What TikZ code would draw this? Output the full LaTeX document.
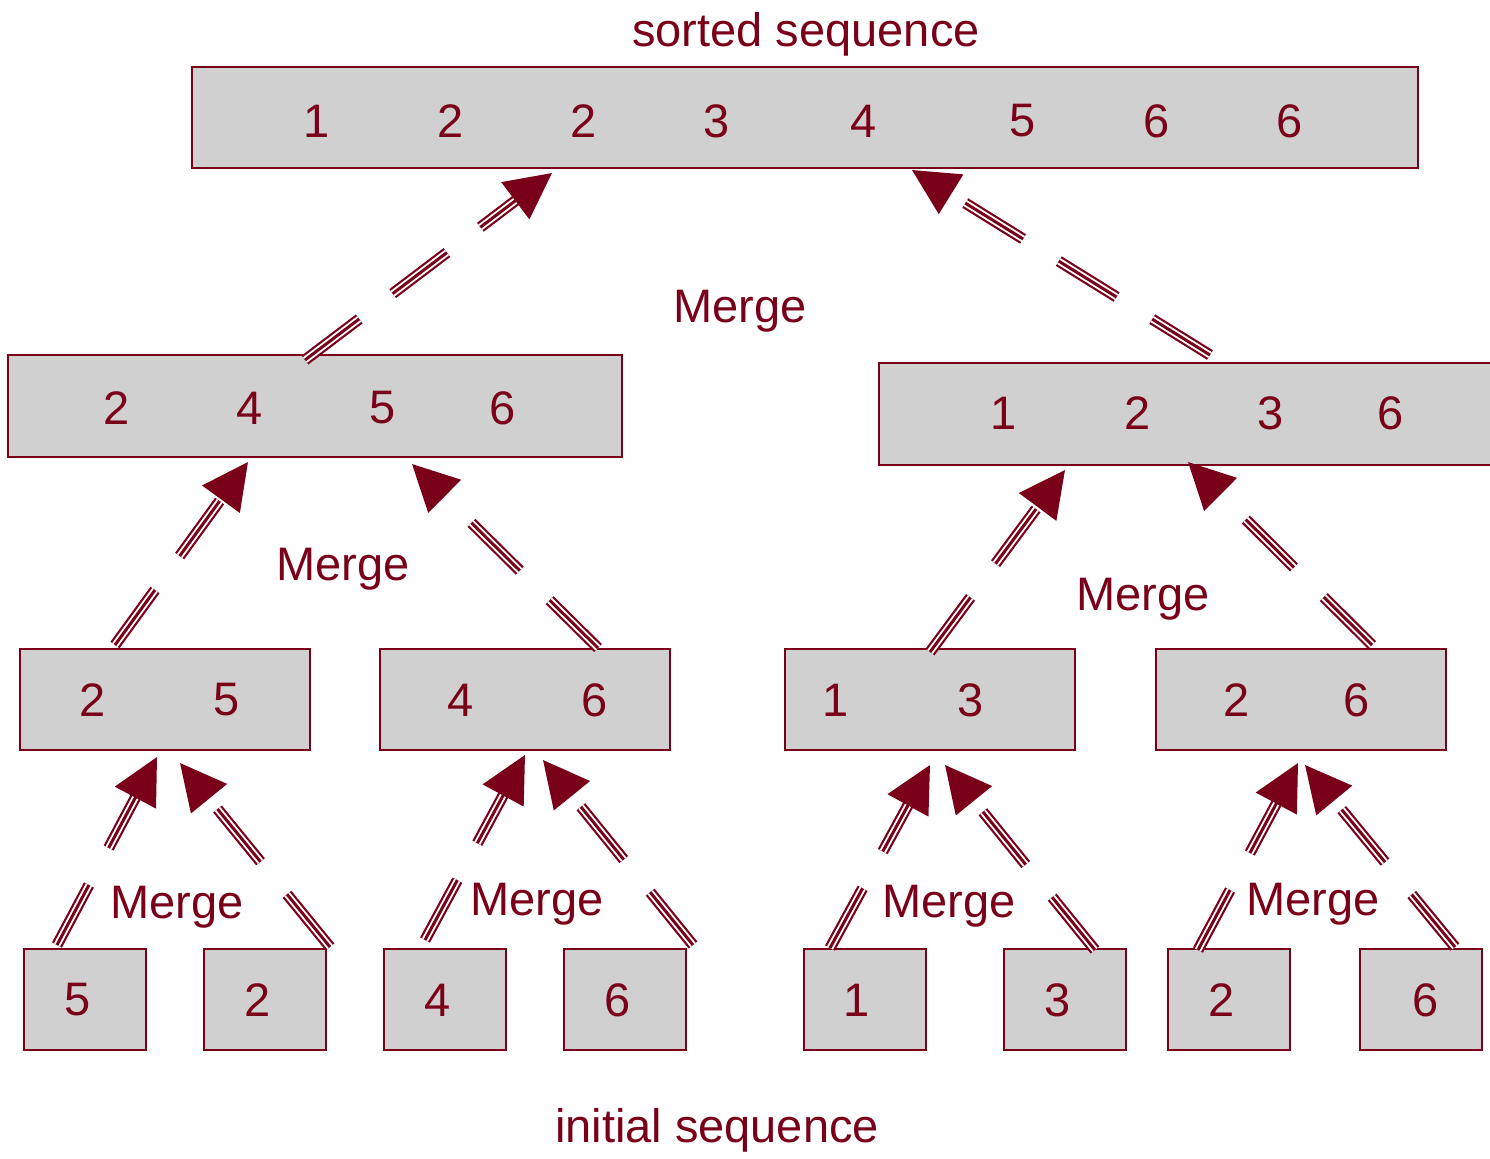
\documentclass[tikz,border=0pt]{standalone}
\usepackage{fontspec}
\setmainfont{Liberation Sans}
\usepackage{tikz}
\usetikzlibrary{arrows.meta,positioning,calc}
\definecolor{msred}{RGB}{122,0,26}
\definecolor{msgray}{RGB}{208,208,208}

\tikzset{
  seqbox/.style={draw=msred, fill=msgray, line width=1pt, inner sep=0pt},
  num/.style={text=msred, font=\fontsize{23.5}{28}\selectfont, inner sep=0pt},
  lbl/.style={text=msred, font=\fontsize{23.5}{28}\selectfont, anchor=base, inner sep=0pt},
  arrdash/.style={line cap=butt, dash pattern=on 34pt off 21pt},
  mergeouter/.style={arrdash, draw=msred, line width=5.6pt},
  mergeinner/.style={arrdash, draw=white, line width=3.4pt},
  mergearrow/.style={arrdash, draw=msred, line width=1.5pt,
    -{Triangle[length=23pt,width=23pt]}},
}

\begin{document}
\begin{tikzpicture}[x=0.5pt, y=-0.5pt]
    \useasboundingbox (0,0) rectangle (1490,1158);

    % Sorted sequence
    \node[lbl] (sorted) at (806,46) {sorted sequence};
    \node[seqbox, minimum width=613pt, minimum height=50.5pt] (top) at (805,117.5) {};
    \foreach \x/\v [count=\i] in {317/1, 451/2, 584/2, 717/3, 864/4, 1023/5, 1157/6, 1290/6} {
        \node[num] (top\i) at (\x,121) {\v};
    }

    % Halves
    \node[seqbox, minimum width=307pt, minimum height=51pt] (midL) at (315,406) {};
    \foreach \x/\v [count=\i] in {117/2, 250/4, 383/5, 503/6} {
        \node[num] (midL\i) at (\x,408) {\v};
    }
    \node[seqbox, minimum width=312pt, minimum height=51pt] (midR) at (1191,414) {};
    \foreach \x/\v [count=\i] in {1004/1, 1138/2, 1271/3, 1391/6} {
        \node[num] (midR\i) at (\x,413) {\v};
    }

    % Pairs
    \foreach \c/\n in {165/A, 525/B, 929.5/C, 1301/D} {
        \node[seqbox, minimum width=145pt, minimum height=50.5pt] (pair\n) at (\c,699.5) {};
    }
    \foreach \x/\v [count=\i] in {93/2, 227/5, 461/4, 595/6, 836/1, 971/3, 1237/2, 1357/6} {
        \node[num] (pnum\i) at (\x,700) {\v};
    }

    % Initial sequence
    \foreach \c/\x/\v [count=\i] in {85/78/5, 265/258/2, 445/438/4, 625/618/6,
                                    865/857/1, 1065/1058/3, 1229/1222/2, 1421/1426/6} {
        \node[seqbox, minimum width=61pt, minimum height=50.5pt] (leaf\i) at (\c,999.5) {};
        \node[num] (lnum\i) at (\x,1000) {\v};
    }
    \node[lbl] (initial) at (717,1142) {initial sequence};

    % Merge labels
    \node[lbl] (mg0) at (740,322) {Merge};
    \node[lbl] (mg1) at (343,580) {Merge};
    \node[lbl] (mg2) at (1143,610) {Merge};
    \node[lbl] (mg3) at (177,918) {Merge};
    \node[lbl] (mg4) at (537,915) {Merge};
    \node[lbl] (mg5) at (949,917) {Merge};
    \node[lbl] (mg6) at (1313,915) {Merge};

    % Merge arrows (three strokes each)
    \foreach \n/\sx/\sy/\ex/\ey in {1/305/360/552/173, 2/1210/355/912/170,
        3/115/645/248/462, 4/598/648/412/464, 5/930/652/1065/470, 6/1372/645/1188/462,
        7/57/945/157/757, 8/330/947/180/763, 9/425/940/525/755, 10/693/945/543/760,
        11/830/948/930/765, 12/1095/950/945/765, 13/1198/950/1298/763, 14/1455/947/1305/765} {
        \coordinate (s\n) at (\sx,\sy);
        \coordinate (e\n) at (\ex,\ey);
        \coordinate (b\n) at ($(e\n)!22pt!(s\n)$);
        \draw[mergeouter] (s\n) -- (b\n);
        \draw[mergeinner] (s\n) -- (b\n);
        \draw[mergearrow] (s\n) -- (e\n);
    }
\end{tikzpicture}
\end{document}
